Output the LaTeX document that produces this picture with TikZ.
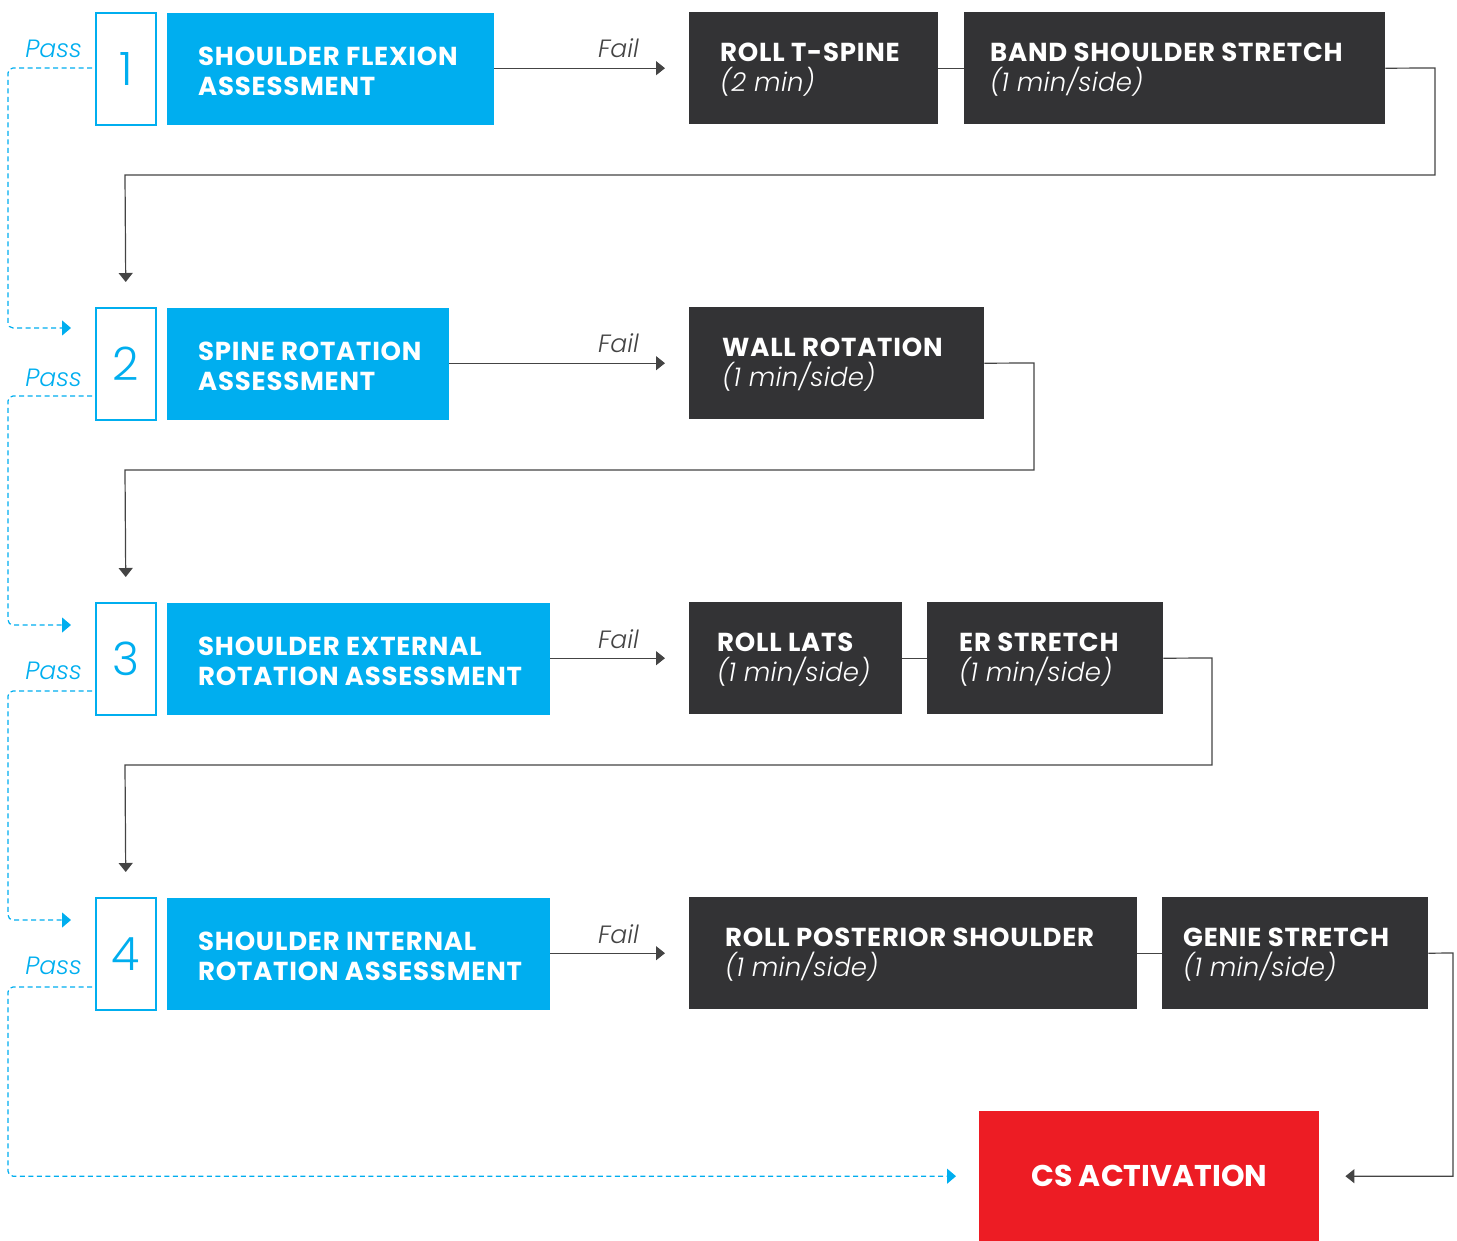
\documentclass[tikz,border=0pt]{standalone}
\usepackage{fontspec}
\setmainfont{Poppins}
\newfontfamily\lightf{Poppins Light}[ItalicFont={Poppins Light Italic}]
\usetikzlibrary{arrows.meta,calc}
\definecolor{cblue}{HTML}{00AEEF}
\definecolor{cdark}{HTML}{333335}
\definecolor{cred}{HTML}{ED1C24}
\definecolor{cline}{HTML}{444444}
\newcommand{\subt}[1]{{\mdseries\lightf\itshape\addfontfeature{LetterSpace=1} #1}}
\tikzset{
  numbox/.style={draw=cblue, line width=1.8pt, fill=white, minimum width=60pt, minimum height=112pt, anchor=north west, inner sep=0pt, text=cblue, font=\lightf\fontsize{46}{46}\selectfont},
  bluebox/.style={fill=cblue, minimum height=112pt, anchor=north west, inner sep=0pt},
  darkbox/.style={fill=cdark, minimum height=112pt, anchor=north west, inner sep=0pt},
  redbox/.style={fill=cred, minimum width=340pt, minimum height=130pt, anchor=north west, inner sep=0pt, text=white, font=\bfseries\fontsize{30}{30}\selectfont},
  ttext/.style={anchor=west, align=left, inner sep=0pt, text=white, font=\bfseries\fontsize{26}{30}\selectfont\addfontfeature{LetterSpace=3}},
  faillbl/.style={anchor=base east, inner sep=0pt, text=cline, font=\lightf\itshape\fontsize{25}{25}\selectfont},
  passlbl/.style={anchor=base east, inner sep=0pt, text=cblue, font=\lightf\itshape\fontsize{25}{25}\selectfont},
  failarrow/.style={draw=cline, line width=1.2pt, -{Triangle[length=9pt,width=14pt]}},
  joinline/.style={draw=cline, line width=1.2pt},
  passarrow/.style={draw=cblue, line width=1.2pt, dash pattern=on 5pt off 3.5pt, rounded corners=5pt, -{Triangle[length=9pt,width=15pt]}},
}
\begin{document}
\begin{tikzpicture}[x=1pt,y=-1pt]
\useasboundingbox (0,0) rectangle (1457,1241);
% row 1
\node[numbox] (n1) at (95,12) {1};
\node[bluebox, minimum width=327pt] (b1) at (167,13) {};
\node[ttext] (t1) at (198,71) {SHOULDER FLEXION\\ASSESSMENT};
\node[darkbox, minimum width=249pt] (r1a) at (689,12) {};
\node[ttext] (t1a) at (720,70) {ROLL T-SPINE\\\subt{(2 min)}};
\node[darkbox, minimum width=421pt] (r1b) at (964,12) {};
\node[ttext] (t1b) at (990,70) {BAND SHOULDER STRETCH\\\subt{(1 min/side)}};
% row 2
\node[numbox] (n2) at (95,307) {2};
\node[bluebox, minimum width=282pt] (b2) at (167,308) {};
\node[ttext] (t2) at (198,366) {SPINE ROTATION\\ASSESSMENT};
\node[darkbox, minimum width=295pt] (r2a) at (689,307) {};
\node[ttext] (t2a) at (722,365) {WALL ROTATION\\\subt{(1 min/side)}};
% row 3
\node[numbox] (n3) at (95,602) {3};
\node[bluebox, minimum width=383pt] (b3) at (167,603) {};
\node[ttext] (t3) at (198,661) {SHOULDER EXTERNAL\\ROTATION ASSESSMENT};
\node[darkbox, minimum width=213pt] (r3a) at (689,602) {};
\node[ttext] (t3a) at (717,660) {ROLL LATS\\\subt{(1 min/side)}};
\node[darkbox, minimum width=236pt] (r3b) at (927,602) {};
\node[ttext] (t3b) at (959,660) {ER STRETCH\\\subt{(1 min/side)}};
% row 4
\node[numbox] (n4) at (95,897) {4};
\node[bluebox, minimum width=383pt] (b4) at (167,898) {};
\node[ttext] (t4) at (198,956) {SHOULDER INTERNAL\\ROTATION ASSESSMENT};
\node[darkbox, minimum width=448pt] (r4a) at (689,897) {};
\node[ttext] (t4a) at (725,955) {ROLL POSTERIOR SHOULDER\\\subt{(1 min/side)}};
\node[darkbox, minimum width=266pt] (r4b) at (1162,897) {};
\node[ttext] (t4b) at (1183,955) {GENIE STRETCH\\\subt{(1 min/side)}};
% final
\node[redbox] (cs) at (979,1111) {CS ACTIVATION};
% fail labels
\node[faillbl] (f1) at (639,58) {Fail};
\node[faillbl] (f2) at (639,353) {Fail};
\node[faillbl] (f3) at (639,648) {Fail};
\node[faillbl] (f4) at (639,943) {Fail};
% pass labels
\node[passlbl] (p1) at (82,58) {Pass};
\node[passlbl] (p2) at (82,386) {Pass};
\node[passlbl] (p3) at (82,679) {Pass};
\node[passlbl] (p4) at (82,974) {Pass};
% fail arrows
\draw[failarrow, shorten >=24pt] (b1.east |- r1a.west) -- (r1a.west);
\draw[failarrow, shorten >=24pt] (b2.east |- r2a.west) -- (r2a.west);
\draw[failarrow, shorten >=24pt] (b3.east |- r3a.west) -- (r3a.west);
\draw[failarrow, shorten >=24pt] (b4.east |- r4a.west) -- (r4a.west);
% joins
\draw[joinline] (r1a.east) -- (r1b.west);
\draw[joinline] (r3a.east) -- (r3b.west);
\draw[joinline] (r4a.east) -- (r4b.west);
% returns
\draw[failarrow, shorten >=25pt] (r1b.east) -- (1435,68) -- (1435,175) -- (125,175) -- (n2.north);
\draw[failarrow, shorten >=25pt] (r2a.east) -- (1034,363) -- (1034,470) -- (125,470) -- (n3.north);
\draw[failarrow, shorten >=25pt] (r3b.east) -- (1212,658) -- (1212,765) -- (125,765) -- (n4.north);
\draw[failarrow, shorten >=26pt] (r4b.east) -- (1453,953) |- (cs.east);
% pass arrows
\coordinate (s1) at (92,68);
\coordinate (s2) at (92,396);
\coordinate (s3) at (92,691);
\coordinate (s4) at (92,987);
\draw[passarrow] (s1) -- (8,68) -- (8,328) -- (71,328);
\draw[passarrow] (s2) -- (8,396) -- (8,625) -- (71,625);
\draw[passarrow] (s3) -- (8,691) -- (8,920) -- (71,920);
\draw[passarrow, shorten >=23pt] (s4) -- (8,987) |- (cs.west);
\end{tikzpicture}
\end{document}
